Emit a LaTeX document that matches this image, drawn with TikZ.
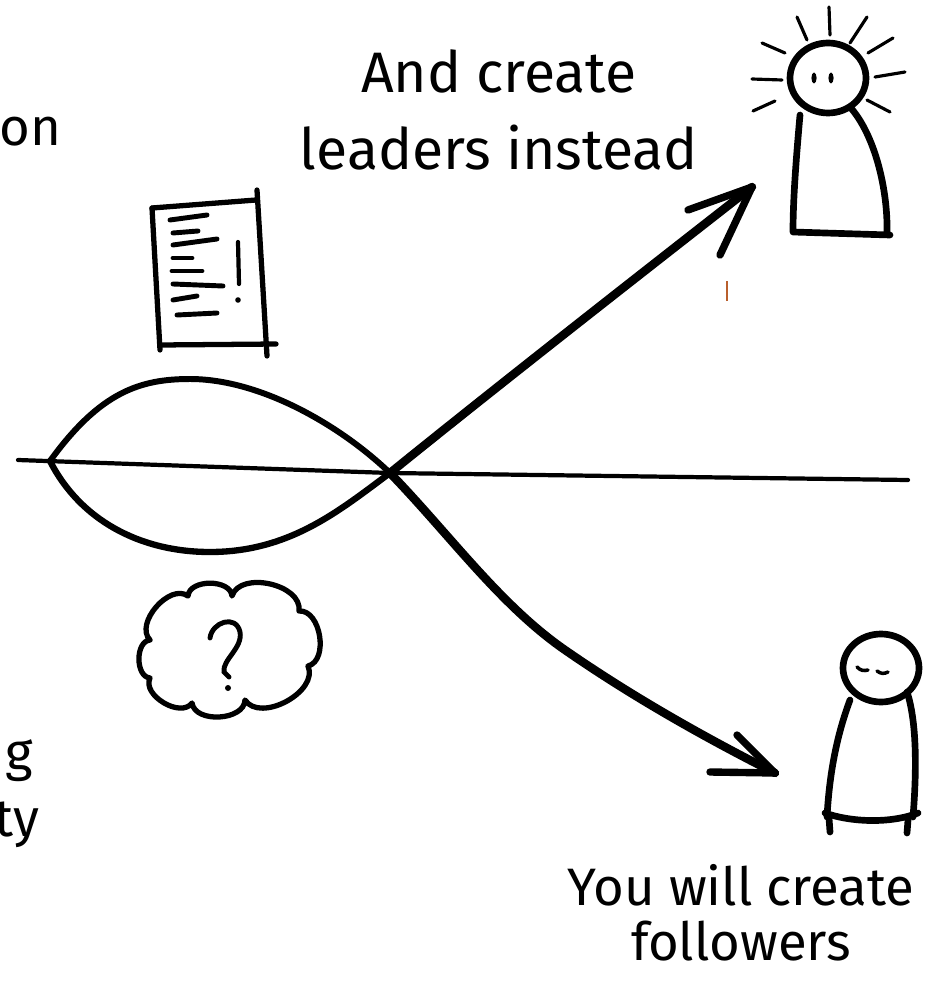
\documentclass[tikz,border=0pt]{standalone}
\usepackage{fontspec}
\setmainfont{Fira Sans}
\tikzset{
  note/.style={font=\fontsize{30}{36}\selectfont, inner sep=0pt},
  bignote/.style={font=\fontsize{32.5}{38}\selectfont, inner sep=0pt},
  pen/.style={line width=3.8pt, line cap=round, line join=round},
  thinpen/.style={line width=1.8pt, line cap=round},
}
\begin{document}
\begin{tikzpicture}[x=0.02cm,y=-0.02cm]
\useasboundingbox (0,0) rectangle (944,983);

\coordinate (L) at (50,461);\coordinate (X) at (390,473);\coordinate (TU) at (752,187);\coordinate (TD) at (775,773);
\coordinate (AL) at (18,460);\coordinate (AR) at (908,480);

% axis
\draw[line width=2.4pt, line cap=round] (AL) -- (X) -- (AR);

% the two paths through the crossing
\draw[line width=3.4pt, line cap=round] (L) .. controls (100,392) and (140,379) .. (190,379) .. controls (260,379) and (340,425) .. (X);
\draw[line width=4.8pt, line cap=round] (X) .. controls (450,535) and (500,605) .. (565,650) .. controls (630,695) and (700,735) .. (TD);
\draw[line width=3.6pt, line cap=round] (L) .. controls (80,520) and (140,552) .. (210,552) .. controls (290,552) and (340,510) .. (X);
\draw[line width=4.8pt, line cap=round] (X) .. controls (480,400) and (620,290) .. (TU);

% arrow heads
\draw[pen, line width=4.2pt] (688,210) -- (TU) -- (720,255);
\draw[pen, line width=4.2pt] (710,772) -- (TD) -- (737,735);

% document
\draw[line width=3pt, line cap=round] (152,208) -- (256,200);
\draw[line width=3pt, line cap=round] (257,190) -- (267,356);
\draw[line width=3pt, line cap=round] (152,208) -- (160,350);
\draw[line width=3pt, line cap=round] (160,345) -- (276,344);
\foreach \a/\b in {{170,220}/{207,215}, {173,233}/{198,231}, {173,245}/{217,239}, {173,258}/{192,258},
                   {172,271}/{202,271}, {173,284}/{223,286}, {173,300}/{197,296}, {177,315}/{217,313}} {
  \draw[line width=2.8pt, line cap=round] (\a) -- (\b);
}
\draw[line width=2.4pt, line cap=round] (238,242) -- (239,284);
\fill (238,300) circle (2.8);

% cloud
\coordinate (c1) at (150,640);\coordinate (c2) at (188,596);\coordinate (c3) at (232,596);\coordinate (c4) at (299,611);
\coordinate (c5) at (308,666);\coordinate (c6) at (245,700);\coordinate (c7) at (192,703);\coordinate (c8) at (150,678);
\draw[pen, line width=3pt] (c1) to[bend left=85] (c2) to[bend left=85] (c3) to[bend left=85] (c4)
  to[bend left=85] (c5) to[bend left=85] (c6) to[bend left=85] (c7) to[bend left=85] (c8) to[bend left=85] (c1);
\draw[line width=2.8pt, line cap=round] (210,638) .. controls (212,622) and (236,614) .. (240,632) .. controls (243,648) and (222,660) .. (224,672) -- (229,677);
\fill (228,688) circle (3);

% leader
\draw[pen] (828,78) ellipse [x radius=38, y radius=35];
\fill (814,78) ellipse [x radius=2.6, y radius=5.5];
\fill (831,78) ellipse [x radius=2.6, y radius=5.5];
\draw[pen] (800,115) .. controls (796,160) and (793,200) .. (793,232) -- (890,235);
\draw[pen] (850,107) .. controls (875,135) and (888,190) .. (887,233);
\foreach \a/\b in {{797,17}/{807,40}, {829,7}/{830,35}, {867,17}/{850,43}, {893,38}/{868,53}, {905,72}/{875,77},
                   {867,100}/{890,112}, {762,43}/{785,53}, {752,79}/{782,80}, {753,111}/{775,101}} {
  \draw[thinpen] (\a) -- (\b);
}

% follower
\draw[pen] (881,668) ellipse [x radius=38, y radius=34];
\draw[line width=2pt, line cap=round] (857,667) .. controls (861,671) and (864,671) .. (868,670);
\draw[line width=2pt, line cap=round] (877,671) .. controls (881,674) and (884,674) .. (888,672);
\draw[pen] (850,700) .. controls (835,740) and (829,780) .. (827,817);
\draw[pen] (907,692) .. controls (918,725) and (916,780) .. (913,817);
\draw[pen] (825,813) .. controls (850,822) and (890,824) .. (918,813);
\draw[pen] (829,818) -- (830,832);
\draw[pen] (908,820) -- (907,833);

% small stray mark
\draw[line width=1.1pt, color={rgb,255:red,185;green,95;blue,45}] (727,281) -- (727,301);

% labels
\node[bignote, anchor=base] (lead1) at (499,93) {And create};
\node[bignote, anchor=base] (lead2) at (499,170) {leaders instead};
\node[note, anchor=base] (foll1) at (741,905) {You will create};
\node[note, anchor=base] (foll2) at (741,960) {followers};
\node[note, anchor=base east] (cut1) at (62,146) {on};
\node[note, anchor=base east] (cut2) at (33,770) {g};
\node[note, anchor=base east] (cut3) at (40,836) {ty};
\end{tikzpicture}
\end{document}
